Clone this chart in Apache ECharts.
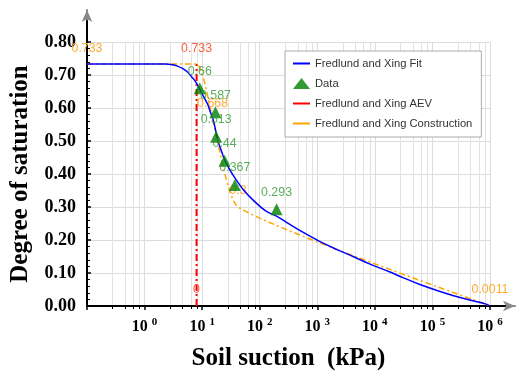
<!DOCTYPE html>
<html><head><meta charset="utf-8">
<script src="https://cdn.jsdelivr.net/npm/echarts@6/dist/echarts.min.js"></script>
<style>html,body{margin:0;padding:0;background:#fff}#c{width:520px;height:371px}</style>
</head><body><div id="c"></div>
<script>
// ---- data ----
const fitX = [0.1, 2.3, 3.06, 3.73, 4.56, 5.56, 6.53, 7.66, 8.98, 10.5, 12.4, 13.9, 15.4, 16.7, 18.0, 19.5, 21.6, 24.3, 29.1, 37.8, 52, 74.5, 125, 202, 301, 570, 1120, 2210, 4190, 8260, 18300, 30800, 60700, 120000, 226000, 447000, 881000, 1000000];
const fitY = [0.733, 0.733, 0.731, 0.727, 0.720, 0.709, 0.695, 0.680, 0.659, 0.636, 0.612, 0.588, 0.567, 0.542, 0.515, 0.492, 0.470, 0.445, 0.418, 0.386, 0.352, 0.323, 0.289, 0.271, 0.252, 0.223, 0.195, 0.171, 0.150, 0.127, 0.103, 0.086, 0.065, 0.047, 0.032, 0.018, 0.005, 0];
const dataX = [9.1, 17.0, 17.5, 24.5, 37, 196];
const dataY = [0.66, 0.587, 0.513, 0.44, 0.367, 0.293];
const aevX = [8, 8];
const aevY = [0, 0.733];
const aevLabels = ['0', '0.733'];
const consX = [0.1, 8, 15.2, 42, 1000000];
const consY = [0.733, 0.733, 0.565, 0.3, 0.0011];
const consLabels = ['0.733', '', '0.668', '0.3', '0.0011'];
const xExponents = [0, 1, 2, 3, 4, 5, 6];
const yTickLabels = ['0.00', '0.10', '0.20', '0.30', '0.40', '0.50', '0.60', '0.70', '0.80'];
const legendNames = ['Fredlund and Xing Fit', 'Data', 'Fredlund and Xing AEV', 'Fredlund and Xing Construction'];

const SERIF = '"Times New Roman", "Liberation Serif", serif';
const SANS = 'Arial, "Liberation Sans", sans-serif';
const zip = (xs, ys) => xs.map((x, i) => [x, ys[i]]);
const noSym = {color: 'rgba(0,0,0,0)', borderColor: 'rgba(0,0,0,0)', borderWidth: 0};

const chart = echarts.init(document.getElementById('c'), null, {renderer: 'canvas'});
const plainAxis = (gi, extra) => Object.assign({
  gridIndex: gi, type: 'value', min: 0, max: 1, silent: true,
  axisTick: {show: false}, axisLabel: {show: false}, splitLine: {show: false}
}, extra);

chart.setOption({
  animation: false,
  backgroundColor: '#fff',
  grid: [
    {left: 87, right: 30, top: 42, bottom: 65, containLabel: false, outerBoundsMode: 'none'},
    {left: 87, right: 5, top: 10, bottom: 65, containLabel: false, outerBoundsMode: 'none'},
    {left: 87, right: 14, top: 21, bottom: 65, containLabel: false, outerBoundsMode: 'none'}
  ],
  legend: {
    orient: 'vertical', left: 285, top: 51,
    padding: [7, 9, 8, 7], itemGap: 9, itemWidth: 17, itemHeight: 11,
    backgroundColor: '#fff', borderColor: '#aaa', borderWidth: 1,
    textStyle: {fontFamily: SANS, fontSize: 11.2, color: '#333'},
    data: [
      {name: legendNames[0], itemStyle: noSym},
      {name: legendNames[1], icon: 'triangle'},
      {name: legendNames[2], lineStyle: {type: 'solid'}, itemStyle: noSym},
      {name: legendNames[3], lineStyle: {type: 'solid'}, itemStyle: noSym}
    ]
  },
  xAxis: [
    {
      gridIndex: 0, type: 'log', logBase: 10, min: 0.1, max: 1000000, splitNumber: 7,
      name: 'Soil suction  (kPa)', nameLocation: 'middle', nameGap: 40,
      nameTextStyle: {fontFamily: SERIF, fontWeight: 'bold', fontSize: 25, color: '#000'},
      axisLine: {show: false},
      axisTick: {show: true, length: 4, lineStyle: {color: '#000', width: 1.5}},
      minorTick: {show: true, splitNumber: 5, length: 3, lineStyle: {color: '#000'}},
      splitLine: {show: true, lineStyle: {color: '#dcdcdc', width: 1}},
      minorSplitLine: {show: true, lineStyle: {color: '#e2e2e2', width: 1}},
      axisLabel: {
        margin: 11,
        formatter: (v) => {
          const e = Math.round(Math.log10(v));
          return xExponents.includes(e) ? '{b|10 }{s|' + e + '}' : '';
        },
        rich: {
          b: {fontFamily: SERIF, fontWeight: 'bold', fontSize: 16, color: '#000'},
          s: {fontFamily: SERIF, fontWeight: 'bold', fontSize: 11, color: '#000', padding: [0, 0, 9, 0]}
        }
      }
    },
    plainAxis(1, {axisLine: {show: true, onZero: false, symbol: ['none', 'arrow'], symbolSize: [8, 12], lineStyle: {color: '#888', width: 2}}}),
    plainAxis(2, {axisLine: {show: true, onZero: false, lineStyle: {color: '#000', width: 2}}})
  ],
  yAxis: [
    {
      gridIndex: 0, type: 'value', min: 0, max: 0.8, interval: 0.1,
      name: 'Degree of saturation', nameLocation: 'middle', nameGap: 54,
      nameTextStyle: {fontFamily: SERIF, fontWeight: 'bold', fontSize: 25, color: '#000'},
      axisLine: {show: false},
      axisTick: {show: true, inside: true, length: 4, lineStyle: {color: '#000', width: 1.5}},
      minorTick: {show: true, splitNumber: 5, length: 3, lineStyle: {color: '#000'}},
      splitLine: {show: true, lineStyle: {color: '#dcdcdc', width: 1}},
      axisLabel: {
        margin: 11, fontFamily: SERIF, fontWeight: 'bold', fontSize: 18, color: '#000',
        formatter: (v) => yTickLabels[Math.round(v * 10)]
      }
    },
    plainAxis(1, {axisLine: {show: true, onZero: false, symbol: ['none', 'arrow'], symbolSize: [8, 12], lineStyle: {color: '#888', width: 2}}}),
    plainAxis(2, {axisLine: {show: true, onZero: false, lineStyle: {color: '#000', width: 2}}})
  ],
  series: [
    {
      name: legendNames[0], type: 'line', xAxisIndex: 0, yAxisIndex: 0,
      data: zip(fitX, fitY), symbol: 'none', smooth: 0.4,
      lineStyle: {color: '#0000ff', width: 1.5}, itemStyle: {color: '#0000ff'}, z: 3
    },
    {
      name: legendNames[2], type: 'line', xAxisIndex: 0, yAxisIndex: 0,
      data: zip(aevX, aevY), symbol: 'circle', symbolSize: 10,
      itemStyle: {color: 'rgba(255,0,0,0)', borderWidth: 0},
      lineStyle: {color: '#ff0000', width: 2, type: [7, 3, 2, 3]},
      label: {show: true, position: 'top', fontFamily: SANS, fontSize: 12.4, color: '#ff6040',
        formatter: (p) => aevLabels[p.dataIndex]},
      z: 2
    },
    {
      name: legendNames[3], type: 'line', xAxisIndex: 0, yAxisIndex: 0,
      data: zip(consX, consY), symbol: 'circle', symbolSize: 10, smooth: 0.15,
      itemStyle: {color: 'rgba(255,165,0,0)', borderWidth: 0},
      lineStyle: {color: '#ffa500', width: 1.5, type: [6, 3, 2, 3]},
      label: {show: true, position: 'top', fontFamily: SANS, fontSize: 12.4, color: '#ffaa33',
        formatter: (p) => consLabels[p.dataIndex]},
      z: 2
    },
    {
      name: legendNames[1], type: 'scatter', xAxisIndex: 0, yAxisIndex: 0,
      data: zip(dataX, dataY), symbol: 'triangle', symbolSize: 12,
      itemStyle: {color: '#008000'},
      label: {show: true, position: 'top', fontFamily: SANS, fontSize: 12.4, color: '#339933',
        formatter: (p) => String(dataY[p.dataIndex])},
      z: 4
    }
  ]
});
</script></body></html>
